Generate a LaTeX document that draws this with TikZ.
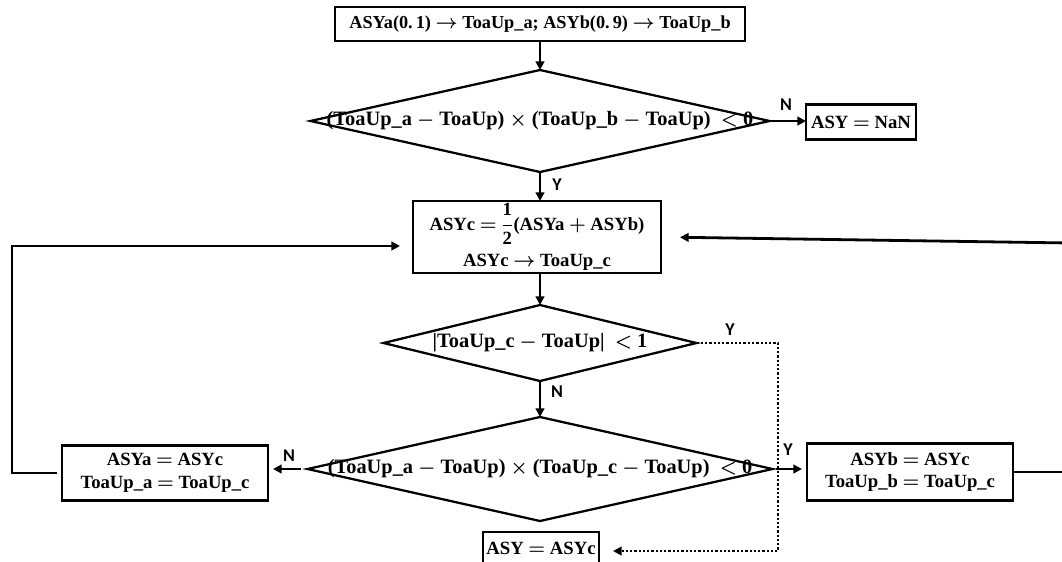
\documentclass[tikz,border=0pt]{standalone}
\usepackage{fontspec}
\setmainfont{Liberation Serif}
\newfontfamily\lblfont{Carlito}
\usetikzlibrary{shapes.geometric,arrows.meta,calc}
\thickmuskip=3.5mu plus 2mu
\medmuskip=3mu plus 1mu
\begin{document}
\begin{tikzpicture}[x=0.75pt,y=-0.75pt,
  txt/.style={font=\bfseries\boldmath\fontsize{14}{18}\selectfont},
  dtxt/.style={font=\bfseries\boldmath\fontsize{15.3}{18}\selectfont},
  box/.style={txt,draw,line width=1.7pt,inner sep=0pt,outer sep=0pt,align=center},
  dia/.style={draw,diamond,line width=1.7pt,inner sep=0pt,outer sep=0pt},
  dtext/.style={dtxt,inner sep=0pt},
  conn/.style={line width=2.1pt,-{Triangle[length=6.5pt,width=6.5pt]}},
  plainconn/.style={line width=2.1pt},
  dotconn/.style={conn,dash pattern=on 1.7pt off 1.5pt},
  yn/.style={font=\lblfont\bfseries\fontsize{13.5}{14}\selectfont,inner sep=0pt}
]
\useasboundingbox (0,0) rectangle (1062,561);
\clip (0,0) rectangle (1062,561);

% nodes
\node[box, minimum width=307.5pt, minimum height=25.5pt] (top) at (540,24)
  {\fontsize{13.7}{18}\selectfont ASYa(0.\,1) $\to$ ToaUp\_a; ASYb(0.\,9) $\to$ ToaUp\_b};
\node[dia, minimum width=344.25pt, minimum height=76.5pt] (d1) at (540,121) {};
\node[dtext] (d1t) at (540,121)
  {(ToaUp\_a $-$ ToaUp) $\times$ (ToaUp\_b $-$ ToaUp)\ \ $<$ 0};
\node[box, minimum width=82.5pt, minimum height=26.25pt] (nan) at (861,122) {ASY $=$ NaN};
\node[box, minimum width=186pt, minimum height=54pt] (mid) at (537,237)
  {ASYc $=\displaystyle\frac{\mbox{1}}{\mbox{2}}$(ASYa $+$ ASYb)\\[6pt] ASYc $\to$ ToaUp\_c};
\node[dia, minimum width=234.75pt, minimum height=57pt] (d2) at (540,343) {};
\node[dtext] (d2t) at (540,343) {|ToaUp\_c $-$ ToaUp|\ \ $<$ 1};
\node[dia, minimum width=348.75pt, minimum height=78pt] (d3) at (540,469) {};
\node[dtext] (d3t) at (540,469)
  {(ToaUp\_a $-$ ToaUp) $\times$ (ToaUp\_c $-$ ToaUp)\ \ $<$ 0};
\node[box, minimum width=154.5pt, minimum height=41.25pt] (lft) at (165,473)
  {ASYa $=$ ASYc\\[-1pt]ToaUp\_a $=$ ToaUp\_c};
\node[box, minimum width=154.5pt, minimum height=42.75pt] (rgt) at (910,472)
  {ASYb $=$ ASYc\\[-1pt]ToaUp\_b $=$ ToaUp\_c};
\node[box, minimum width=87pt, minimum height=24pt] (bot) at (541,548) {ASY $=$ ASYc};

% labels
\node[yn] (n1) at (786,105) {N};
\node[yn] (y1) at (557,185) {Y};
\node[yn] (y2) at (730,330) {Y};
\node[yn] (n2) at (557,392) {N};
\node[yn] (n3) at (289,456) {N};
\node[yn] (y3) at (788,450) {Y};

% coordinates
\coordinate (c1) at (778,343);
\coordinate (c2) at (778,551);
\coordinate (l1) at (12,473);
\coordinate (l2) at (12,246);
\coordinate (r1) at (1080,472);
\coordinate (r2) at (1070,243);

% connectors
\draw[conn] (top.south) -- (d1.north);
\draw[conn] (d1.east) -- (d1.east -| nan.west);
\draw[conn] (d1.south) -- (d1.south |- mid.north);
\draw[conn] (d1.south |- mid.south) -- (d2.north);
\draw[conn] (d2.south) -- (d3.north);
\draw[dotconn, shorten >=10.5pt] (d2.east) -- (c1) -- (c2) -- (c2 -| bot.east);
\draw[conn, shorten <=5.25pt, shorten >=3.75pt] (d3.west) -- (d3.west -| lft.east);
\draw[conn, shorten <=2.25pt, shorten >=3.75pt] (d3.east) -- (d3.east -| rgt.west);
\draw[conn, shorten <=3.75pt, shorten >=9.75pt] (lft.west) -- (l1) -- (l2) -- (l2 -| mid.west);
\draw[plainconn] (rgt.east) -- (r1);
\draw[conn, shorten >=14.25pt] (r2) -- (mid.east);
\end{tikzpicture}
\end{document}
